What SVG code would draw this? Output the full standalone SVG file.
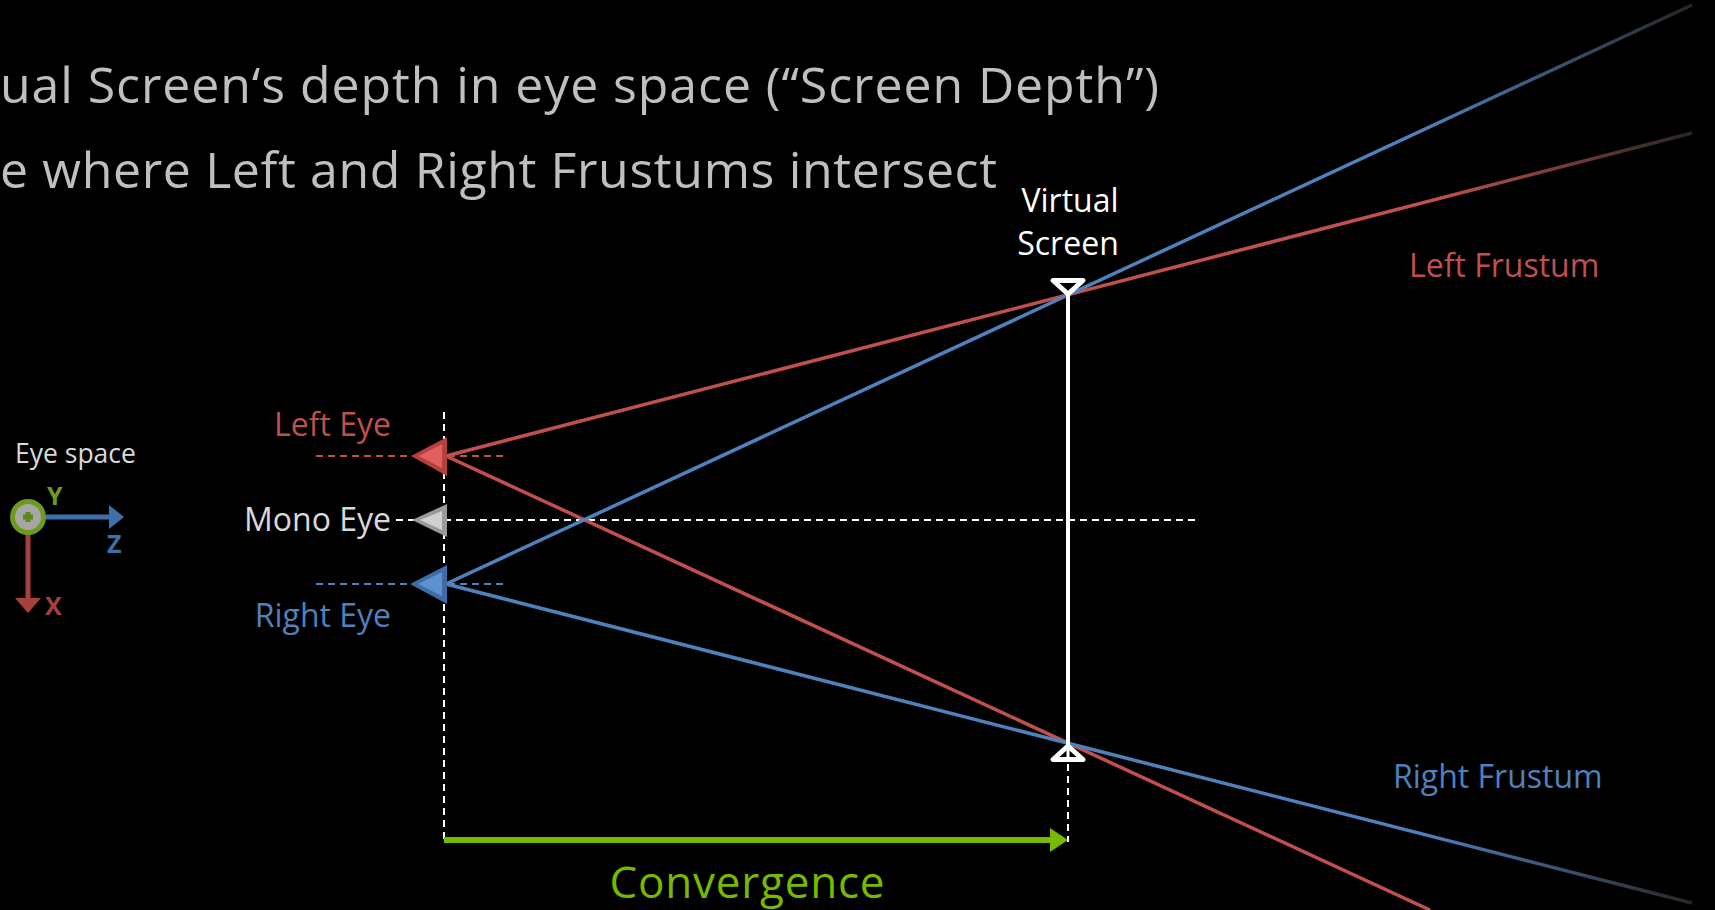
<svg xmlns="http://www.w3.org/2000/svg" width="1715" height="910" viewBox="0 0 1715 910">
  <defs>
    <style>
      .title { font-family: "Open Sans", "Liberation Sans", sans-serif; font-size: 50px; fill: #bfbfbf; }
      .lbl { font-family: "Open Sans", "Liberation Sans", sans-serif; font-size: 32px; }
      .red { fill: #c0504d; }
      .blue { fill: #4f81bd; }
      .grey { fill: #d9d9d9; }
      .white { fill: #ffffff; }
      .dash { stroke-width: 2; stroke-dasharray: 7 5; fill: none; }
      .ray { stroke-width: 3.5; fill: none; }
    </style>
    <linearGradient id="fadeRed" gradientUnits="userSpaceOnUse" x1="1440" y1="0" x2="1692" y2="0">
      <stop offset="0" stop-color="#c0504d"/>
      <stop offset="1" stop-color="#262626"/>
    </linearGradient>
    <linearGradient id="fadeBlue" gradientUnits="userSpaceOnUse" x1="1420" y1="0" x2="1692" y2="0">
      <stop offset="0" stop-color="#4f81bd"/>
      <stop offset="1" stop-color="#262626"/>
    </linearGradient>
  </defs>
  <rect x="0" y="0" width="1715" height="910" fill="#000000"/>

  <g id="title">
    <text class="title" x="0" y="103" textLength="1159" lengthAdjust="spacing">ual Screen‘s depth in eye space (“Screen Depth”)</text>
    <text class="title" x="0" y="188" textLength="997" lengthAdjust="spacing">e where Left and Right Frustums intersect</text>
  </g>

  <g id="connectors">
    <line class="dash" x1="444" y1="412" x2="444" y2="840" stroke="#ffffff"/>
    <line class="dash" x1="1068" y1="764" x2="1068" y2="842" stroke="#ffffff"/>
    <line class="dash" x1="316" y1="456" x2="506" y2="456" stroke="#c0504d"/>
    <line class="dash" x1="316" y1="584" x2="506" y2="584" stroke="#4f81bd"/>
    <line class="dash" x1="396" y1="520" x2="1198" y2="520" stroke="#ffffff"/>
    <path class="ray" d="M446,456 L1692,133" stroke="url(#fadeRed)"/>
    <path class="ray" d="M446,456 L1430,910" stroke="#c0504d"/>
    <path class="ray" d="M446,584 L1692,5" stroke="url(#fadeBlue)"/>
    <path class="ray" d="M446,584 L1692,903" stroke="url(#fadeBlue)"/>
    <line x1="444" y1="840" x2="1052" y2="840" stroke="#76b900" stroke-width="6"/>
    <polygon points="1050,828 1068,840 1050,852" fill="#76b900"/>
  </g>

  <g id="virtual-screen">
    <line x1="1068" y1="294" x2="1068" y2="758" stroke="#ffffff" stroke-width="4"/>
    <polygon points="1053,280.5 1083,280.5 1068,294" fill="#000000" stroke="#ffffff" stroke-width="5" stroke-linejoin="round"/>
    <polygon points="1053,759.5 1083,759.5 1068,746" fill="#000000" stroke="#ffffff" stroke-width="5" stroke-linejoin="round"/>
    <line x1="1068" y1="744" x2="1068" y2="758" stroke="#ffffff" stroke-width="3"/>
    <text class="lbl white" x="1070" y="212" text-anchor="middle">Virtual</text>
    <text class="lbl white" x="1068" y="255" text-anchor="middle">Screen</text>
  </g>

  <g id="left-eye">
    <polygon points="411,456 447,437 447,476" fill="#b5403d"/>
    <polygon points="419,456 442,444 442,468" fill="#e0625e"/>
    <text class="lbl red" x="391" y="436" text-anchor="end">Left Eye</text>
  </g>

  <g id="mono-eye">
    <polygon points="412,520 447,504 447,537" fill="#9a9a9a"/>
    <polygon points="420,520 442,511 442,530" fill="#d0d0d0"/>
    <text class="lbl grey" x="391" y="531" text-anchor="end" font-size="33">Mono Eye</text>
  </g>

  <g id="right-eye">
    <polygon points="410,584 447,565 447,604" fill="#3d6ca6"/>
    <polygon points="418,584 442,572 442,596" fill="#5e91d0"/>
    <text class="lbl blue" x="391" y="627" text-anchor="end">Right Eye</text>
  </g>

  <g id="left-frustum">
    <text class="lbl red" x="1409" y="277">Left Frustum</text>
  </g>

  <g id="right-frustum">
    <text class="lbl blue" x="1393" y="788">Right Frustum</text>
  </g>

  <g id="convergence">
    <text x="747" y="898" text-anchor="middle" font-family="Open Sans, Liberation Sans, sans-serif" font-size="44" fill="#76b900" textLength="275" lengthAdjust="spacing">Convergence</text>
  </g>

  <g id="eye-space-axes">
    <text x="15" y="463" font-family="Open Sans, Liberation Sans, sans-serif" font-size="26.5" fill="#d9d9d9">Eye space</text>
    <line x1="44" y1="517" x2="112" y2="517" stroke="#3f70ac" stroke-width="5"/>
    <polygon points="109,505 124,517 109,529" fill="#3f70ac"/>
    <line x1="28" y1="533" x2="28" y2="600" stroke="#a8403d" stroke-width="5"/>
    <polygon points="15,598 41,598 28,613" fill="#a8403d"/>
    <circle cx="28" cy="517" r="15.5" fill="#a6a6a6" stroke="#6e9a1e" stroke-width="5"/>
    <rect x="25.5" y="512" width="5" height="10" fill="#5a8a16"/>
    <rect x="23" y="514.5" width="10" height="5" fill="#5a8a16"/>
    <text x="47" y="505" font-family="Open Sans, Liberation Sans, sans-serif" font-size="25" font-weight="bold" fill="#6e9a1e">Y</text>
    <text x="107" y="553" font-family="Open Sans, Liberation Sans, sans-serif" font-size="25" font-weight="bold" fill="#3f70ac">Z</text>
    <text x="45" y="615" font-family="Open Sans, Liberation Sans, sans-serif" font-size="25" font-weight="bold" fill="#a8403d">X</text>
  </g>
</svg>
